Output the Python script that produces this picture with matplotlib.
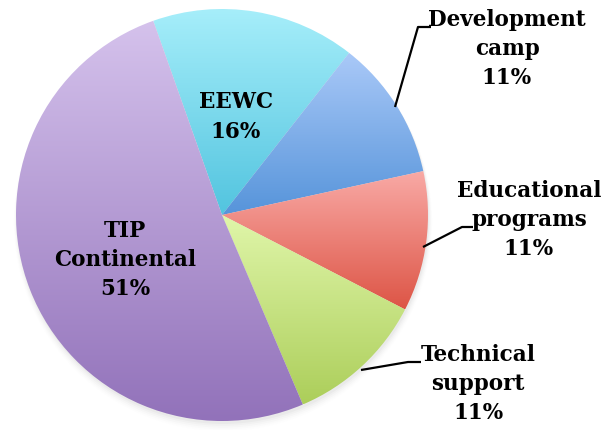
import numpy as np
import matplotlib
matplotlib.use("Agg")
import matplotlib.pyplot as plt
from matplotlib.colors import to_rgb

# ---- data ----
labels = ["EEWC", "Development\ncamp", "Educational\nprograms", "Technical\nsupport", "TIP\nContinental"]
values = [16, 11, 11, 11, 51]
pct_labels = ["16%", "11%", "11%", "11%", "51%"]
top_colors = ["#a6eefa", "#aac9f8", "#f9aaa6", "#e0f6aa", "#d5c2ec"]
bottom_colors = ["#52c4df", "#5694da", "#dd5546", "#acce5a", "#9272ba"]

W, H = 610, 430
fig = plt.figure(figsize=(W / 100, H / 100), dpi=100)
ax = fig.add_axes([0, 0, 1, 1])

cx, cy_img, R = 222, 215, 206
center = (cx, H - cy_img)

wedges, _ = ax.pie(values, startangle=109.5, counterclock=False, center=center,
                   radius=R, wedgeprops=dict(linewidth=0, edgecolor="none"))

# soft shadow
for i, a in enumerate(np.linspace(0.05, 0.01, 5)):
    circ = plt.Circle((center[0] + 1, center[1] - 3 - i), R + i * 0.8,
                      color="#808080", alpha=a, zorder=0, lw=0)
    ax.add_patch(circ)

for w, tc, bc in zip(wedges, top_colors, bottom_colors):
    ext = w.get_path().get_extents()
    t = np.linspace(0, 1, 256)[:, None]
    c0 = np.array(to_rgb(bc)); c1 = np.array(to_rgb(tc))
    grad = c0[None, None, :] * (1 - t[..., None]) + c1[None, None, :] * t[..., None]
    grad = np.repeat(grad, 2, axis=1)
    im = ax.imshow(grad, extent=(ext.x0, ext.x1, ext.y0, ext.y1), origin="lower",
                   interpolation="bilinear", zorder=2)
    im.set_clip_path(w)
    w.set_facecolor("none")

font = dict(family="DejaVu Serif", weight="bold", fontsize=15.5, ha="center",
            va="center", linespacing=1.42, zorder=5)

label_pos = [(236, 117), (507, 49), (529, 220), (478, 384), (125, 260)]
for lab, pct, (x, y) in zip(labels, pct_labels, label_pos):
    ax.text(x, H - y, lab + "\n" + pct, **font)

leaders = [
    [(395, 107), (418, 27), (431, 27)],
    [(423, 247), (462, 227), (473, 227)],
    [(361, 370), (408, 362), (421, 362)],
]
for pts in leaders:
    xs = [p[0] for p in pts]; ys = [H - p[1] for p in pts]
    ax.plot(xs, ys, color="black", lw=1.6, zorder=4, solid_capstyle="butt")

ax.set_xlim(0, W)
ax.set_ylim(0, H)
ax.set_aspect("equal")
ax.axis("off")
fig.savefig("out.png", dpi=100, facecolor="white")
